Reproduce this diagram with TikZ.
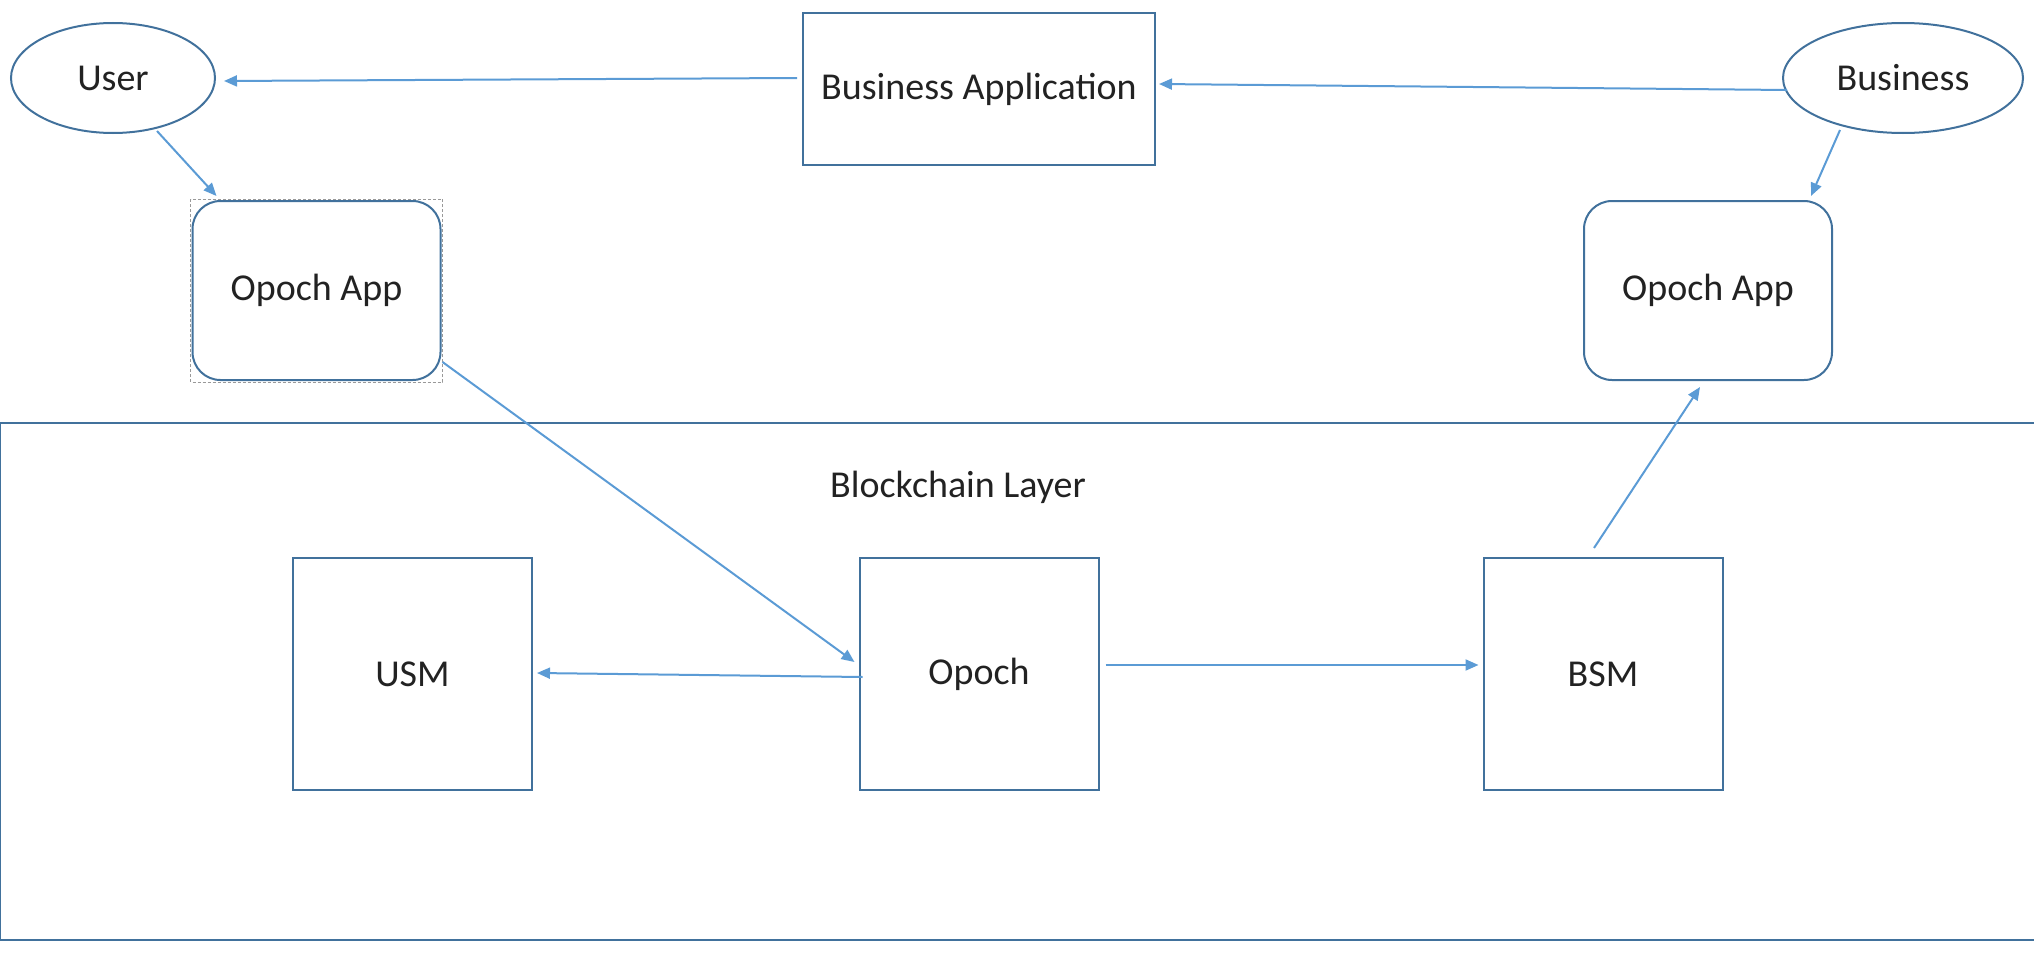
\documentclass[tikz,border=0pt]{standalone}
\usepackage{fontspec}
\setmainfont{Carlito}
\usetikzlibrary{arrows.meta,calc,shapes.geometric}

\definecolor{boxline}{HTML}{41719C}
\definecolor{flow}{HTML}{5B9BD5}
\definecolor{ink}{HTML}{222222}

\tikzset{
  base/.style={draw=boxline, line width=2pt, text=ink, font=\fontsize{38}{45}\selectfont, inner sep=0pt},
  actor/.style={base, ellipse},
  plainbox/.style={base, rectangle},
  appbox/.style={base, rectangle, rounded corners=28pt, minimum width=248pt, minimum height=179pt},
  smbox/.style={base, rectangle, minimum width=239pt, minimum height=232pt},
  flowarrow/.style={draw=flow, line width=2pt, -{Triangle[length=13pt,width=11pt]}},
  selbox/.style={draw=gray!80, line width=1pt, dash pattern=on 3pt off 2pt},
  layerbox/.style={draw=boxline, line width=2pt},
}

\begin{document}
\begin{tikzpicture}[x=1pt, y=-1pt]
  \useasboundingbox (0,0) rectangle (2034,966);

  % blockchain layer container
  \draw[layerbox] (0,423) rectangle (2045,940);
  \node[text=ink, font=\fontsize{38}{45}\selectfont] (layerlabel) at (958,487) {Blockchain Layer};

  % actors and applications
  \node[actor, minimum width=204pt, minimum height=110pt] (user) at (113,78) {User};
  \node[actor, minimum width=240pt, minimum height=110pt] (business) at (1903,78) {Business};
  \node[plainbox, minimum width=352pt, minimum height=152pt] (bizapp) at (979,89) {Business Application};
  \node[appbox] (lapp) at (316.5,290.5) {Opoch App};
  \node[appbox] (rapp) at (1708,290.5) {Opoch App};
  \draw[selbox] ($(lapp.north west)+(-1,-1)$) rectangle ($(lapp.south east)+(1,1)$);

  % state machines inside the layer
  \node[smbox] (usm) at (412.5,674) {USM};
  \node[smbox] (opoch) at (979,674) {Opoch};
  \node[smbox] (bsm) at (1603,674) {BSM};

  % connectors
  \draw[flowarrow] ($(bizapp.west)+(-5,-11)$) -- ($(user.east)+(8,3)$);
  \draw[flowarrow] ($(business.west)+(5,12)$) -- ($(bizapp.east)+(3,-5)$);
  \draw[flowarrow] ($(user.south)+(44,-3)$) -- ($(lapp.north west)+(25,-4)$);
  \draw[flowarrow] ($(business.south)+(-63,-4)$) -- ($(rapp.north east)+(-22,-4)$);
  \draw[flowarrow] ($(lapp.south east)+(1,-19)$) -- ($(opoch.west)+(-4,-12)$);
  \draw[flowarrow] ($(opoch.west)+(4,3)$) -- ($(usm.east)+(4,-1)$);
  \draw[flowarrow] ($(opoch.east)+(6,-9)$) -- ($(bsm.west)+(-4,-9)$);
  \draw[flowarrow] ($(bsm.north)+(-9,-9)$) -- ($(rapp.south)+(-8,6)$);
\end{tikzpicture}
\end{document}
